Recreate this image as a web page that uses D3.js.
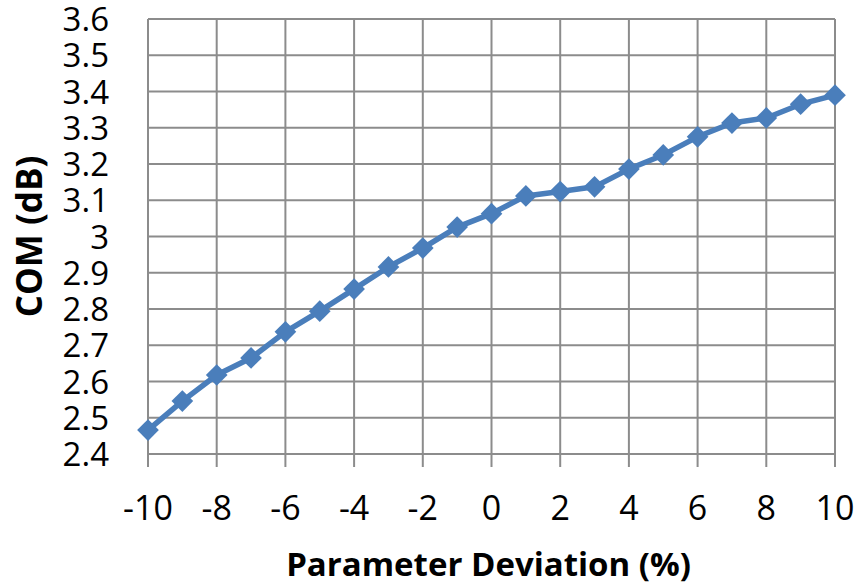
<!DOCTYPE html>
<html>
<head>
<meta charset="utf-8">
<script src="https://cdn.jsdelivr.net/npm/d3@7"></script>
<style>
  body { margin: 0; background: #fff; }
  svg { display: block; font-family: "Open Sans", sans-serif; }
</style>
</head>
<body>
<svg id="chart" width="856" height="586"></svg>
<script>
// Data
const deviation = [-10, -9, -8, -7, -6, -5, -4, -3, -2, -1, 0, 1, 2, 3, 4, 5, 6, 7, 8, 9, 10];
const com = [2.466, 2.546, 2.618, 2.665, 2.737, 2.794, 2.855, 2.916, 2.968, 3.026, 3.063,
             3.112, 3.124, 3.137, 3.186, 3.225, 3.275, 3.313, 3.327, 3.365, 3.39];
const xTicks = [-10, -8, -6, -4, -2, 0, 2, 4, 6, 8, 10];
const yTicks = [2.4, 2.5, 2.6, 2.7, 2.8, 2.9, 3.0, 3.1, 3.2, 3.3, 3.4, 3.5, 3.6];

const margin = { top: 19, right: 21, bottom: 132, left: 148 };
const width = 856 - margin.left - margin.right;
const height = 586 - margin.top - margin.bottom;

const svg = d3.select("#chart");
const g = svg.append("g").attr("transform", `translate(${margin.left},${margin.top})`);

const x = d3.scaleLinear().domain([-10, 10]).range([0, width]);
const y = d3.scaleLinear().domain([2.4, 3.6]).range([height, 0]);

const gridColor = "#8c8c8c";

// horizontal grid lines
g.append("g").selectAll("line")
  .data(yTicks)
  .enter().append("line")
  .attr("x1", 0).attr("x2", width)
  .attr("y1", d => y(d)).attr("y2", d => y(d))
  .attr("stroke", gridColor).attr("stroke-width", 2);

// vertical grid lines, running down past the axis as tick marks
g.append("g").selectAll("line")
  .data(xTicks)
  .enter().append("line")
  .attr("x1", d => x(d)).attr("x2", d => x(d))
  .attr("y1", 0).attr("y2", height + 13)
  .attr("stroke", gridColor).attr("stroke-width", 2);

// y tick labels
g.append("g").selectAll("text")
  .data(yTicks)
  .enter().append("text")
  .attr("x", -39)
  .attr("y", d => y(d) + 12)
  .attr("text-anchor", "end")
  .attr("font-size", "33px")
  .attr("fill", "#000")
  .text(d => d3.format("")(+d.toFixed(1)));

// x tick labels
g.append("g").selectAll("text")
  .data(xTicks)
  .enter().append("text")
  .attr("x", d => x(d))
  .attr("y", height + 66)
  .attr("text-anchor", "middle")
  .attr("font-size", "34px")
  .attr("fill", "#000")
  .text(d => d);

// line
const lineColor = "#4a7ebb";
const line = d3.line()
  .x((d, i) => x(deviation[i]))
  .y(d => y(d));

g.append("path")
  .datum(com)
  .attr("d", line)
  .attr("fill", "none")
  .attr("stroke", lineColor)
  .attr("stroke-width", 5.5)
  .attr("stroke-linejoin", "round");

// diamond markers
const diamond = d3.symbol().type(d3.symbolDiamond2).size(300);
g.append("g").selectAll("path")
  .data(com)
  .enter().append("path")
  .attr("d", diamond)
  .attr("transform", (d, i) => `translate(${x(deviation[i])},${y(d)})`)
  .attr("fill", lineColor);

// axis titles
svg.append("text")
  .attr("x", margin.left + width / 2 - 3)
  .attr("y", 576)
  .attr("text-anchor", "middle")
  .attr("font-size", "33px")
  .attr("font-weight", "bold")
  .attr("fill", "#000")
  .text("Parameter Deviation (%)");

svg.append("text")
  .attr("transform", `translate(42,${margin.top + height / 2}) rotate(-90)`)
  .attr("text-anchor", "middle")
  .attr("font-size", "35px")
  .attr("font-weight", "bold")
  .attr("fill", "#000")
  .text("COM (dB)");
</script>
</body>
</html>
